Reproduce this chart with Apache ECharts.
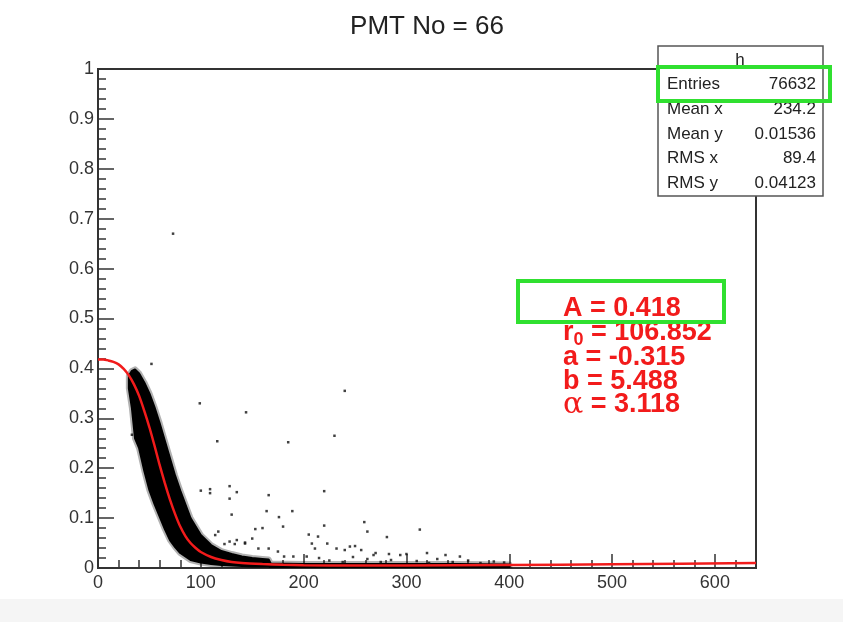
<!DOCTYPE html>
<html><head><meta charset="utf-8">
<script src="https://cdn.jsdelivr.net/npm/echarts@6/dist/echarts.min.js"></script>
<style>html,body{margin:0;padding:0;background:#fff}#c{width:843px;height:622px}</style>
</head><body><div id="c"></div>
<script>
// ---------------- data ----------------
const titleText = 'PMT No = 66';

// fitted curve (red)
const fitX = [0, 5, 10, 15, 20, 25, 30, 35, 40, 45, 50, 55, 60, 65, 70, 75, 80, 85, 90, 95, 100, 110, 120, 130, 140, 160, 180, 200, 250, 300, 400, 500, 640];
const fitY = [0.418, 0.418, 0.416, 0.413, 0.408, 0.399, 0.386, 0.368, 0.345, 0.315, 0.282, 0.245, 0.206, 0.17, 0.137, 0.108, 0.083, 0.064, 0.05, 0.04, 0.032, 0.022, 0.016, 0.012, 0.010, 0.008, 0.0065, 0.0055, 0.0048, 0.0048, 0.006, 0.0075, 0.010];

// dense scatter cloud: lower / upper envelope
const bandX  = [30, 33, 36, 40, 45, 50, 55, 60, 65, 70, 75, 80, 90, 100, 110, 120, 130, 140, 150, 160, 166, 168, 200, 250, 300, 350, 400];
const bandHi = [0.385, 0.395, 0.398, 0.39, 0.372, 0.35, 0.322, 0.29, 0.255, 0.22, 0.185, 0.155, 0.1, 0.066, 0.046, 0.034, 0.028, 0.023, 0.02, 0.018, 0.017, 0.009, 0.008, 0.008, 0.008, 0.008, 0.007];
const bandLo = [0.36, 0.32, 0.26, 0.24, 0.195, 0.156, 0.128, 0.103, 0.078, 0.056, 0.042, 0.03, 0.016, 0.011, 0.008, 0.006, 0.005, 0.004, 0.003, 0.003, 0.003, 0.001, 0.001, 0.001, 0.001, 0.001, 0.001];

// sparse outlier points
const outX = [73, 52, 99, 144, 240, 116, 185, 230, 100, 109, 109, 128, 135, 128, 130, 166, 164, 189, 176, 220, 220, 180, 259, 262, 281, 313, 153, 160, 205, 214, 150, 117, 114, 123, 128, 133, 143, 156, 166, 175, 181, 190, 208, 211, 223, 232, 240, 245, 250, 256, 268, 294, 300, 338, 352, 203, 33, 135, 143,
              225, 238, 262, 275, 285, 310, 322, 330, 345, 360, 372, 385, 395, 215, 248, 270, 320, 283];
const outY = [0.67, 0.409, 0.33, 0.312, 0.355, 0.254, 0.252, 0.265, 0.155, 0.158, 0.150, 0.164, 0.152, 0.139, 0.107, 0.146, 0.114, 0.114, 0.102, 0.154, 0.085, 0.083, 0.092, 0.073, 0.062, 0.077, 0.078, 0.080, 0.067, 0.063, 0.059, 0.073, 0.066, 0.048, 0.053, 0.048, 0.049, 0.039, 0.039, 0.033, 0.023, 0.023, 0.049, 0.039, 0.049, 0.039, 0.036, 0.043, 0.044, 0.036, 0.026, 0.026, 0.028, 0.026, 0.023, 0.023, 0.267, 0.056, 0.051,
              0.015, 0.012, 0.018, 0.012, 0.016, 0.014, 0.010, 0.018, 0.012, 0.015, 0.010, 0.013, 0.011, 0.020, 0.022, 0.030, 0.030, 0.028];

// stats box
const statsTitle = 'h';
const statsLabels = ['Entries', 'Mean x', 'Mean y', 'RMS x', 'RMS y'];
const statsValues = ['76632', '234.2', '0.01536', '89.4', '0.04123'];

// fit parameters
const fitA = '0.418', fitR0 = '106.852', fita = '-0.315', fitb = '5.488', fitAlpha = '3.118';

// axes
const xMin = 0, xMax = 640, xStep = 100, xMinor = 20;
const yMin = 0, yMax = 1, yStep = 0.1, yMinor = 0.02;

// ---------------- chart ----------------
const chart = echarts.init(document.getElementById('c'), null, {renderer: 'canvas'});
const FONT = '"Liberation Sans", Arial, Helvetica, sans-serif';
const AX = '#333';
const GL = 98, GT = 69, GW = 658, GH = 499;

const fitData = fitX.map((x, i) => [x, fitY[i]]);
const outData = outX.map((x, i) => [x, outY[i]]);
const bandData = bandX.map((x, i) => [x, bandLo[i], bandHi[i]]);

const statsGraphics = [];
const rowY = [84, 109, 134, 158, 183];
statsGraphics.push({type: 'rect', z: 100, shape: {x: 658, y: 46, width: 165, height: 150},
  style: {fill: '#fff', stroke: '#555', lineWidth: 1.5}});
statsGraphics.push({type: 'text', z: 101, x: 740, y: 60, style: {text: statsTitle, font: '17px ' + FONT, fill: '#222', align: 'center', verticalAlign: 'middle'}});
statsLabels.forEach((l, i) => {
  statsGraphics.push({type: 'text', z: 101, x: 667, y: rowY[i], style: {text: l, font: '17px ' + FONT, fill: '#222', align: 'left', verticalAlign: 'middle'}});
  statsGraphics.push({type: 'text', z: 101, x: 816, y: rowY[i], style: {text: statsValues[i], font: '17px ' + FONT, fill: '#222', align: 'right', verticalAlign: 'middle'}});
});
statsGraphics.push({type: 'rect', z: 102, shape: {x: 658, y: 67, width: 172, height: 34},
  style: {fill: 'none', stroke: '#30e030', lineWidth: 4}});

const RED = '#f21b1b';
const bold = 'bold 27px ' + FONT;
const fitLines = [
  {y: 309, rich: '{m|A = ' + fitA + '}'},
  {y: 333, rich: '{m|r}{s|0}{m| = ' + fitR0 + '}'},
  {y: 358, rich: '{m|a = ' + fita + '}'},
  {y: 382, rich: '{m|b = ' + fitb + '}'},
  {y: 405, rich: '{g|\u03b1}{m| = ' + fitAlpha + '}'}
];
const richStyles = {
  m: {font: bold, fill: RED},
  s: {font: 'bold 18px ' + FONT, fill: RED, padding: [14, 0, 0, 0]},
  g: {font: '30px "DejaVu Serif", serif', fill: RED}
};
const fitGraphics = fitLines.map(l => ({type: 'text', z: 50, x: 563, y: l.y,
  style: {text: l.rich, rich: richStyles, align: 'left', verticalAlign: 'middle', fill: RED}}));
fitGraphics.push({type: 'rect', z: 51, shape: {x: 518, y: 281, width: 206, height: 41},
  style: {fill: 'none', stroke: '#30e030', lineWidth: 4}});

const titleGraphic = {type: 'text', z: 50, x: 427, y: 27,
  style: {text: titleText, font: '26px ' + FONT, fill: '#222', align: 'center', verticalAlign: 'middle'}};

const option = {
  backgroundColor: '#fff',
  animation: false,
  grid: {left: GL, top: GT, width: GW, height: GH, show: true, borderColor: AX, borderWidth: 2, backgroundColor: 'transparent'},
  xAxis: [
    {type: 'value', min: xMin, max: xMax, interval: xStep, position: 'bottom',
      axisLine: {show: true, lineStyle: {color: AX, width: 2}},
      axisTick: {show: true, inside: true, length: 14, lineStyle: {color: AX, width: 1.5}},
      axisLabel: {show: true, color: '#333', fontFamily: FONT, fontSize: 18, margin: 6, showMaxLabel: false},
      splitLine: {show: false}},
    {type: 'value', min: xMin, max: xMax, interval: xMinor, position: 'bottom',
      axisLine: {show: false},
      axisTick: {show: true, inside: true, length: 8, lineStyle: {color: AX, width: 1.5}},
      axisLabel: {show: false}, splitLine: {show: false}}
  ],
  yAxis: [
    {type: 'value', min: yMin, max: yMax, interval: yStep, position: 'left',
      axisLine: {show: true, lineStyle: {color: AX, width: 2}},
      axisTick: {show: true, inside: true, length: 16, lineStyle: {color: AX, width: 1.5}},
      axisLabel: {show: true, color: '#333', fontFamily: FONT, fontSize: 18, margin: 4},
      splitLine: {show: false}},
    {type: 'value', min: yMin, max: yMax, interval: yMinor, position: 'left',
      axisLine: {show: false},
      axisTick: {show: true, inside: true, length: 8, lineStyle: {color: AX, width: 1.5}},
      axisLabel: {show: false}, splitLine: {show: false}}
  ],
  series: [
    {type: 'custom', name: 'cloud', xAxisIndex: 0, yAxisIndex: 0, z: 3, clip: true,
      data: bandData,
      renderItem: function (params, api) {
        // draw the whole cloud outline once, from the envelope arrays
        if (params.dataIndex !== 0) return null;
        const pts = [];
        for (let k = 0; k < bandX.length; k++) pts.push(api.coord([bandX[k], bandLo[k]]));
        for (let k = bandX.length - 1; k >= 0; k--) pts.push(api.coord([bandX[k], bandHi[k]]));
        return {type: 'group', children: [
          {type: 'polygon', shape: {points: pts}, z2: 0,
            style: {fill: 'rgba(0,0,0,0.3)', stroke: 'rgba(0,0,0,0.3)', lineWidth: 6, lineJoin: 'round'}},
          {type: 'polygon', shape: {points: pts}, z2: 1,
            style: {fill: '#000', stroke: '#000', lineWidth: 2, lineJoin: 'round'}}
        ]};
      }},
    {type: 'scatter', name: 'points', xAxisIndex: 0, yAxisIndex: 0, z: 4, data: outData,
      symbol: 'rect', symbolSize: 2.5, itemStyle: {color: '#111'}},
    {type: 'line', name: 'fit', xAxisIndex: 0, yAxisIndex: 0, z: 5, data: fitData,
      smooth: 0.2, showSymbol: false, symbol: 'none',
      lineStyle: {color: RED, width: 2.5}}
  ],
  graphic: [
    {type: 'rect', z: -10, silent: true, shape: {x: 0, y: 599, width: 843, height: 23}, style: {fill: '#f5f5f5'}},
    titleGraphic
  ].concat(fitGraphics, statsGraphics)
};
chart.setOption(option);
</script>
</body></html>
